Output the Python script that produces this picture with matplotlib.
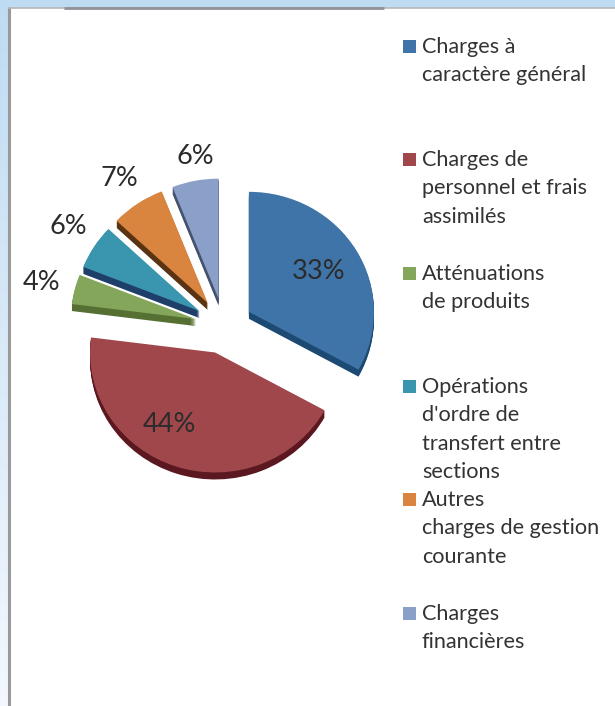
import numpy as np
import matplotlib
matplotlib.use("Agg")
import matplotlib.pyplot as plt
from matplotlib.patches import Rectangle

W, H = 615, 706

# Donnees
categories = ["Charges à\ncaractère général",
              "Charges de\npersonnel et frais\nassimilés",
              "Atténuations\nde produits",
              "Opérations\nd'ordre de\ntransfert entre\nsections",
              "Autres\ncharges de gestion\ncourante",
              "Charges\nfinancières"]
values = [33, 44, 4, 6, 7, 6]
colors = ["#3f74a8", "#a0474b", "#83a65b", "#3a96ae", "#d9843f", "#8aa0c8"]
dark = ["#1c4a72", "#5c1820", "#566f32", "#1f3f6b", "#5a3412", "#46536e"]

# Positions en pixels de l'image
pct_xy = [(319, 271), (169, 425), (42, 283), (68, 226), (119, 179), (195, 157)]
legend_y = [47, 160, 274, 387, 500, 614]
line_step = 28.4

plt.rcParams["font.family"] = ["Lato", "DejaVu Sans"]

fig = plt.figure(figsize=(W / 100, H / 100), dpi=100)

# Fond
bg = fig.add_axes([0, 0, 1, 1], zorder=0)
bg.axis("off")
grad = np.linspace(0, 1, 256).reshape(-1, 1, 1)
top_col = np.array([0.75, 0.86, 0.95]).reshape(1, 1, 3)
bot_col = np.array([0.95, 0.97, 0.995]).reshape(1, 1, 3)
bg.imshow(top_col * (1 - grad) + bot_col * grad, extent=(0, W, H, 0), aspect="auto")
bg.add_patch(Rectangle((9, 8), W - 9, H - 8, fc="white", ec="none"))
bg.plot([8.5, 8.5], [7, H], color="#9a9a9a", lw=2.2, solid_capstyle="butt")
bg.plot([8, W], [7.5, 7.5], color="#b4b8bc", lw=1.2, solid_capstyle="butt")
bg.plot([64, 384], [7.5, 7.5], color="#8f9296", lw=2, solid_capstyle="butt")
bg.set_xlim(0, W)
bg.set_ylim(H, 0)

# Camembert (un peu ecrase en hauteur)
Rx, Ry = 125, 120
cx, cy = 224, 326
ax = fig.add_axes([(cx - 1.25 * Rx) / W, 1 - (cy + 1.25 * Ry) / H, 2.5 * Rx / W, 2.5 * Ry / H], zorder=1)
ax.patch.set_alpha(0)
explode = [0.232] * len(values)

# epaisseur 3D : memes parts empilees, decalees vers le bas
depth = 7
for d in range(depth, 0, -1):
    ax.pie(values, colors=dark, explode=explode, startangle=90, counterclock=False,
           radius=1, center=(0, -d / Ry), frame=True, wedgeprops={"linewidth": 0})
ax.pie(values, colors=colors, explode=explode, startangle=90, counterclock=False,
       radius=1, center=(0, 0), frame=True, wedgeprops={"linewidth": 0})
ax.set_aspect("auto")
ax.set_xlim(-1.25, 1.25)
ax.set_ylim(-1.25, 1.25)
ax.axis("off")

# Pourcentages
for v, (x, y) in zip(values, pct_xy):
    fig.text(x / W, 1 - y / H, f"{v}%", fontsize=19.5, color="#2b2b2b",
             ha="center", va="center", zorder=5)

# Legende
for cat, col, y in zip(categories, colors, legend_y):
    fig.patches.append(Rectangle((403 / W, 1 - (y + 6) / H), 13 / W, 13 / H, fc=col, ec="none",
                                 transform=fig.transFigure, figure=fig))
    for i, line in enumerate(cat.split("\n")):
        fig.text(422 / W, 1 - (y + i * line_step) / H, line, fontsize=15.6, color="#333333",
                 ha="left", va="center", zorder=5)

fig.savefig("out.png", dpi=100)
